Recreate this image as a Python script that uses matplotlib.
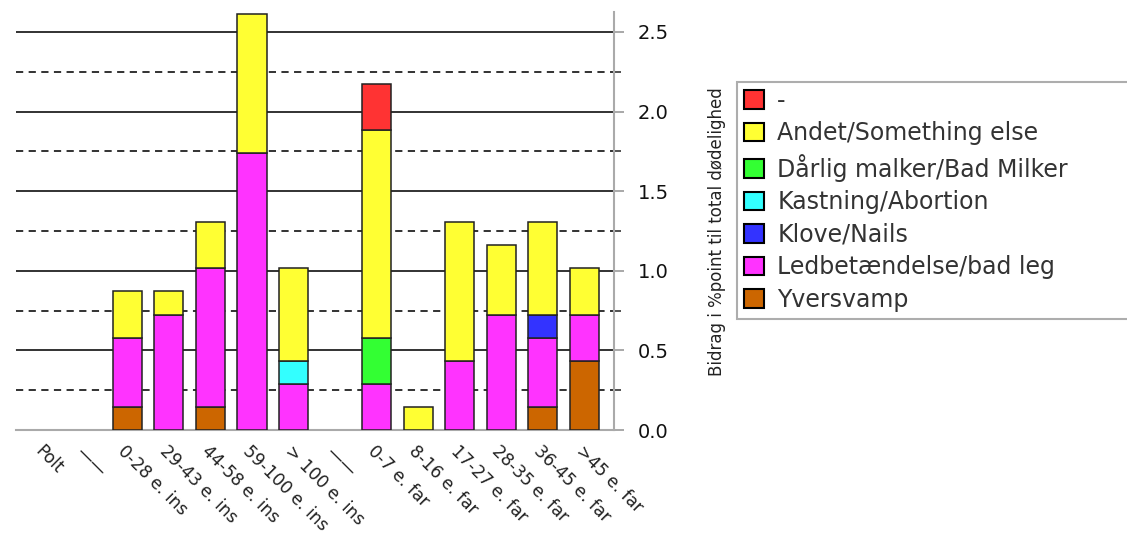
import matplotlib.pyplot as plt
from matplotlib.patches import Patch
from matplotlib.ticker import MultipleLocator

# categories on the x axis
categories = ["Polt", "——", "0-28 e. ins", "29-43 e. ins", "44-58 e. ins",
              "59-100 e. ins", "> 100 e. ins", "——", "0-7 e. far", "8-16 e. far",
              "17-27 e. far", "28-35 e. far", "36-45 e. far", ">45 e. far"]

# series, bottom of the stack first
yversvamp = [0, 0, 0.145, 0, 0.145, 0, 0, 0, 0, 0, 0, 0, 0.145, 0.435]
ledbet = [0, 0, 0.435, 0.725, 0.87, 1.74, 0.29, 0, 0.29, 0, 0.435, 0.725, 0.435, 0.29]
klove = [0, 0, 0, 0, 0, 0, 0, 0, 0, 0, 0, 0, 0.145, 0]
kastning = [0, 0, 0, 0, 0, 0, 0.145, 0, 0, 0, 0, 0, 0, 0]
daarlig = [0, 0, 0, 0, 0, 0, 0, 0, 0.29, 0, 0, 0, 0, 0]
andet = [0, 0, 0.29, 0.145, 0.29, 0.87, 0.58, 0, 1.305, 0.145, 0.87, 0.435, 0.58, 0.29]
dash = [0, 0, 0, 0, 0, 0, 0, 0, 0.29, 0, 0, 0, 0, 0]

series = [
    ("Yversvamp", yversvamp, "#cc6600"),
    ("Ledbetændelse/bad leg", ledbet, "#ff33ff"),
    ("Klove/Nails", klove, "#3333ff"),
    ("Kastning/Abortion", kastning, "#33ffff"),
    ("Dårlig malker/Bad Milker", daarlig, "#33ff33"),
    ("Andet/Something else", andet, "#ffff33"),
    ("-", dash, "#ff3333"),
]

W, H = 1127, 536
fig = plt.figure(figsize=(W / 100, H / 100), dpi=100)
ax = fig.add_axes([16 / W, 1 - 430 / H, (614 - 16) / W, (430 - 12) / H])

#
# Stacked bars (no outline on empty segments)
x = list(range(len(categories)))
bottom = [0.0] * len(categories)
for name, vals, color in series:
    ax.bar(x, vals, width=0.7, bottom=bottom, color=color,
           edgecolor="#222222", linewidth=[1.1 if v > 0 else 0 for v in vals],
           zorder=3)
    bottom = [b + v for b, v in zip(bottom, vals)]

#
# Axes styling
ax.set_xlim(-0.68, 13.71)
ax.set_ylim(0, 2.625)
ax.yaxis.tick_right()
ax.yaxis.set_major_locator(MultipleLocator(0.5))
ax.yaxis.set_minor_locator(MultipleLocator(0.25))
ax.yaxis.set_major_formatter(lambda v, p: f"{v:.1f}")
ax.grid(axis="y", which="major", color="#222222", linewidth=1.3, zorder=0)
ax.grid(axis="y", which="minor", color="#222222", linewidth=1.3,
        linestyle=(0, (4, 3)), zorder=0)
ax.tick_params(axis="y", which="major", length=7, width=1.2, color="#999999",
               labelsize=14, labelcolor="#111111", pad=10)
ax.tick_params(axis="y", which="minor", length=5, width=1.2, color="#333333")
ax.tick_params(axis="x", length=0, pad=9)

for side in ["top", "left"]:
    ax.spines[side].set_visible(False)
for side in ["right", "bottom"]:
    ax.spines[side].set_color("#aaaaaa")
    ax.spines[side].set_linewidth(1.5)

ax.set_xticks(x)
ax.set_xticklabels(categories, rotation=-45, ha="left", va="top",
                   rotation_mode="anchor", fontsize=12.3, color="#222222")

fig.text(717 / W, 1 - 232 / H, "Bidrag i %point til total dødelighed",
         rotation=90, ha="center", va="center", fontsize=12, color="#222222")

#
# Legend (top of stack first), box runs off the right edge like the original
handles = [Patch(facecolor=c, edgecolor="black", linewidth=1.5) for _, _, c in series]
labels = [n for n, _, _ in series]
leg = fig.legend(handles[::-1], labels[::-1], loc="upper left", mode="expand",
                 bbox_to_anchor=(737 / W, 1 - 87 / H, (1135 - 737) / W, 0.01),
                 fontsize=17, frameon=True, fancybox=False, borderaxespad=0,
                 handlelength=0.85, handleheight=0.85, handletextpad=0.55,
                 labelspacing=0.36, borderpad=0.3)
leg.get_frame().set_edgecolor("#999999")
leg.get_frame().set_linewidth(1.5)
for t in leg.get_texts():
    t.set_color("#333333")

fig.savefig("out.png", dpi=100)
